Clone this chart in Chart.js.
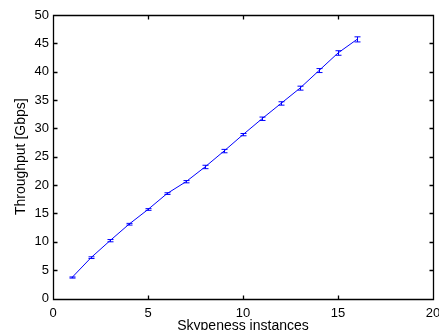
<!DOCTYPE html>
<html>
<head>
<meta charset="utf-8">
<script src="https://cdn.jsdelivr.net/npm/chart.js@4/dist/chart.umd.min.js"></script>
<style>
  html, body { margin: 0; padding: 0; background: #fff; }
  #wrap { width: 439px; height: 330px; }
</style>
</head>
<body>
<div id="wrap"><canvas id="tputChart"></canvas></div>
<script>
const instances = [1, 2, 3, 4, 5, 6, 7, 8, 9, 10, 11, 12, 13, 14, 15, 16];
const throughput = [3.7, 7.2, 10.2, 13.1, 15.7, 18.5, 20.6, 23.2, 26.0, 28.9, 31.7, 34.4, 37.1, 40.2, 43.3, 45.7];
const errHalf = [0.1, 0.15, 0.2, 0.15, 0.15, 0.15, 0.2, 0.3, 0.3, 0.2, 0.3, 0.3, 0.35, 0.35, 0.4, 0.45];
const xTicks = [0, 5, 10, 15, 20];
const yTicks = [0, 5, 10, 15, 20, 25, 30, 35, 40, 45, 50];

const points = instances.map((x, i) => ({ x: x, y: throughput[i] }));

// matlab-style box with inward ticks + error bars
const matlabBox = {
  id: 'matlabBox',
  afterDatasetsDraw(chart) {
    const c = chart.ctx;
    const xs = chart.scales.x, ys = chart.scales.y;
    const a = chart.chartArea;

    c.save();
    c.strokeStyle = '#0000ff';
    c.lineWidth = 1;
    c.beginPath();
    instances.forEach((v, i) => {
      const px = Math.round(xs.getPixelForValue(v)) + 0.5;
      const lo = ys.getPixelForValue(throughput[i] - errHalf[i]);
      const hi = ys.getPixelForValue(throughput[i] + errHalf[i]);
      c.moveTo(px, lo); c.lineTo(px, hi);
      c.moveTo(px - 3, lo); c.lineTo(px + 3, lo);
      c.moveTo(px - 3, hi); c.lineTo(px + 3, hi);
    });
    c.stroke();

    c.strokeStyle = '#000';
    c.lineWidth = 1.3;
    const L = Math.round(a.left) + 0.5, R = Math.round(a.right) + 0.5;
    const T = Math.round(a.top) + 0.5, B = Math.round(a.bottom) + 0.5;
    c.beginPath();
    c.rect(L, T, R - L, B - T);
    xTicks.forEach(v => {
      const px = Math.round(xs.getPixelForValue(v)) + 0.5;
      c.moveTo(px, B); c.lineTo(px, B - 4);
      c.moveTo(px, T); c.lineTo(px, T + 4);
    });
    yTicks.forEach(v => {
      const py = Math.round(ys.getPixelForValue(v)) + 0.5;
      c.moveTo(L, py); c.lineTo(L + 4, py);
      c.moveTo(R, py); c.lineTo(R - 4, py);
    });
    c.stroke();
    c.restore();
  }
};

const fontFam = '"Liberation Sans", Arial, Helvetica, sans-serif';

new Chart(document.getElementById('tputChart'), {
  type: 'line',
  data: {
    datasets: [{
      data: points,
      borderColor: '#0000ff',
      backgroundColor: '#0000ff',
      borderWidth: 1,
      pointRadius: 0,
      tension: 0
    }]
  },
  options: {
    responsive: true,
    maintainAspectRatio: false,
    animation: false,
    layout: { padding: { top: 15, right: 6, left: 0, bottom: 0 } },
    plugins: {
      legend: { display: false },
      tooltip: { enabled: false }
    },
    scales: {
      x: {
        type: 'linear',
        min: 0, max: 20,
        afterBuildTicks: s => { s.ticks = xTicks.map(v => ({ value: v })); },
        afterFit: s => { s.height = 31.5; s.paddingLeft = 0; s.paddingRight = 0; },
        grid: { display: false, drawTicks: false },
        border: { display: false },
        ticks: { color: '#000', padding: 7, maxRotation: 0, font: { family: fontFam, size: 13 } },
        title: {
          display: true,
          text: 'Skypeness instances',
          color: '#000',
          padding: { top: 0, bottom: -4.5 },
          font: { family: fontFam, size: 14 }
        }
      },
      y: {
        min: 0, max: 50,
        afterBuildTicks: s => { s.ticks = yTicks.map(v => ({ value: v })); },
        afterFit: s => { s.width = 53; },
        grid: { display: false, drawTicks: false },
        border: { display: false },
        ticks: { color: '#000', padding: 4, font: { family: fontFam, size: 13 } },
        title: {
          display: true,
          text: 'Throughput [Gbps]',
          color: '#000',
          padding: { top: 12.5, bottom: 0 },
          font: { family: fontFam, size: 14 }
        }
      }
    }
  },
  plugins: [matlabBox]
});
</script>
</body>
</html>
